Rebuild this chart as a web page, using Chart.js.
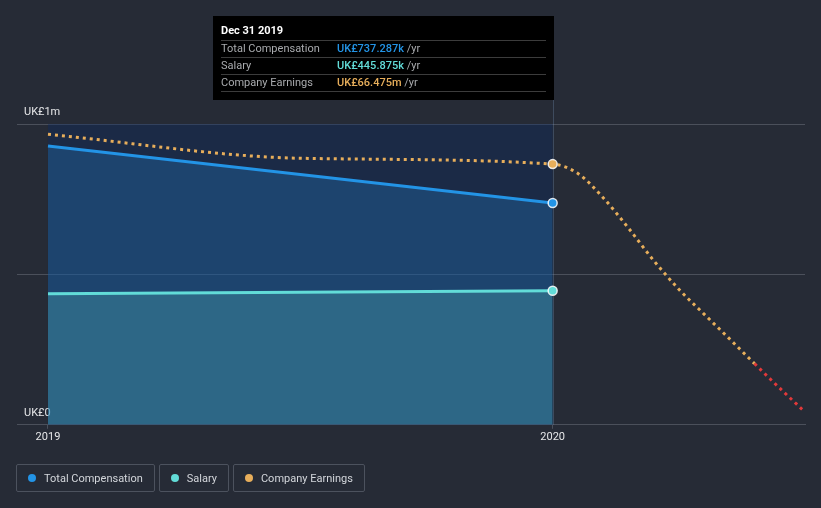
<!DOCTYPE html>
<html>
<head>
<meta charset="utf-8">
<script src="https://cdn.jsdelivr.net/npm/chart.js@4/dist/chart.umd.min.js"></script>
<style>
    html, body { margin: 0; padding: 0; background: #262b36; }
    body { width: 821px; height: 508px; position: relative; overflow: hidden; font-family: Roboto, sans-serif; }
    #chart { position: absolute; left: 0; top: 0; }
    #legend { position: absolute; left: 16px; top: 464px; display: flex; gap: 4px; }
    #legend .item {
        display: flex; align-items: center; height: 28px; box-sizing: border-box;
        border: 1px solid #4c525e; border-radius: 2px; padding: 0 11px 0 11px;
        font-size: 11px; color: #d3d6db;
    }
    #legend .dot { width: 8px; height: 8px; border-radius: 50%; margin-right: 8px; }
</style>
</head>
<body>
<canvas id="chart" width="821" height="508"></canvas>
<div id="legend"></div>
<script>
document.addEventListener('DOMContentLoaded', function () {

    // Data (x = year)
    const compYears = [2019, 2020];
    const totalComp = [927000, 737287];
    const salary = [436000, 445875];

    const earningsYears = [2019, 2019.5, 2020, 2020.05, 2020.1, 2020.15, 2020.2, 2020.25, 2020.3, 2020.35, 2020.4, 2020.45, 2020.5];
    const earnings = [76.3e6, 68.4e6, 66.475e6, 63.4e6, 55.4e6, 45.4e6, 34.7e6, 25.2e6, 17.0e6, 8.9e6, 0.66e6, -7.44e6, -15.3e6];

    const xTicks = [2019, 2020];
    const xTickLabels = ['2019', '2020'];
    const yTicks = [0, 500000, 1000000];
    const yTickLabels = ['UK£0', '', 'UK£1m'];

    const seriesNames = ['Total Compensation', 'Salary', 'Company Earnings'];
    const seriesColors = ['#2394e6', '#62dcd8', '#e7ae5b'];
    const negativeColor = '#e2393a';

    const tooltipYear = 2020;
    const tooltipTitle = 'Dec 31 2019';

    const toXY = (xs, ys) => xs.map((x, i) => ({ x: x, y: ys[i] }));
    const markAt = (xs, year) => xs.map(x => x === year ? 4.5 : 0);

    const fmtK = v => 'UK£' + (v / 1000).toFixed(3) + 'k';
    const fmtM = v => 'UK£' + (v / 1e6).toFixed(3) + 'm';

    // highlighted range + hover line
    const bandPlugin = {
        id: 'band',
        beforeDatasetsDraw(chart) {
            const { ctx, chartArea, scales } = chart;
            const x0 = scales.x.getPixelForValue(compYears[0]);
            const x1 = scales.x.getPixelForValue(tooltipYear);
            ctx.save();
            ctx.fillStyle = 'rgba(10, 40, 100, 0.35)';
            ctx.fillRect(x0, chartArea.top, x1 - x0, chartArea.bottom - chartArea.top);
            ctx.strokeStyle = 'rgba(120, 150, 190, 0.3)';
            ctx.lineWidth = 1;
            ctx.beginPath();
            ctx.moveTo(Math.round(x1) + 0.5, 100);
            ctx.lineTo(Math.round(x1) + 0.5, chartArea.bottom);
            ctx.stroke();
            ctx.restore();
        }
    };

    // fixed tooltip box
    const tooltipPlugin = {
        id: 'staticTooltip',
        afterDraw(chart) {
            const ctx = chart.ctx;
            const xPix = Math.round(chart.scales.x.getPixelForValue(tooltipYear));
            const right = xPix + 1, left = right - 341, top = 16, bottom = 100;
            const i = compYears.indexOf(tooltipYear);
            const e = earningsYears.indexOf(tooltipYear);
            const rows = [
                [seriesNames[0], fmtK(totalComp[i]), seriesColors[0]],
                [seriesNames[1], fmtK(salary[i]), seriesColors[1]],
                [seriesNames[2], fmtM(earnings[e]), seriesColors[2]]
            ];
            ctx.save();
            ctx.fillStyle = '#000000';
            ctx.fillRect(left, top, right - left, bottom - top);
            ctx.textBaseline = 'middle';
            ctx.textAlign = 'left';
            ctx.font = 'bold 11px Roboto';
            ctx.fillStyle = '#ffffff';
            ctx.fillText(tooltipTitle, left + 8, 31.5);
            ctx.strokeStyle = '#3c3c3c';
            ctx.lineWidth = 1;
            [40.5, 57.5, 74.5, 91.5].forEach(y => {
                ctx.beginPath();
                ctx.moveTo(left + 8, y);
                ctx.lineTo(right - 8, y);
                ctx.stroke();
            });
            rows.forEach((r, k) => {
                const y = 49 + k * 17;
                ctx.font = '11px Roboto';
                ctx.fillStyle = '#a9abae';
                ctx.fillText(r[0], left + 8, y);
                ctx.font = '500 11px Roboto';
                ctx.fillStyle = r[2];
                ctx.fillText(r[1], left + 124, y);
                const w = ctx.measureText(r[1]).width;
                ctx.font = '11px Roboto';
                ctx.fillStyle = '#a9abae';
                ctx.fillText(' /yr', left + 124 + w, y);
            });
            ctx.restore();
        }
    };

    const chartCanvas = document.getElementById('chart');
    new Chart(chartCanvas, {
        type: 'line',
        data: {
            datasets: [{
                label: seriesNames[0],
                data: toXY(compYears, totalComp),
                borderColor: seriesColors[0],
                backgroundColor: 'rgba(35, 148, 230, 0.25)',
                borderWidth: 3,
                fill: 'origin',
                pointRadius: markAt(compYears, tooltipYear),
                pointBackgroundColor: seriesColors[0],
                pointBorderColor: 'rgba(255,255,255,0.85)',
                pointBorderWidth: 1.5,
                yAxisID: 'y',
                order: 2
            }, {
                label: seriesNames[1],
                data: toXY(compYears, salary),
                borderColor: seriesColors[1],
                backgroundColor: 'rgba(98, 220, 216, 0.23)',
                borderWidth: 3,
                fill: 'origin',
                pointRadius: markAt(compYears, tooltipYear),
                pointBackgroundColor: seriesColors[1],
                pointBorderColor: 'rgba(255,255,255,0.85)',
                pointBorderWidth: 1.5,
                yAxisID: 'y',
                order: 1
            }, {
                label: seriesNames[2],
                data: toXY(earningsYears, earnings),
                borderColor: seriesColors[2],
                borderWidth: 3,
                borderDash: [3, 4],
                fill: false,
                cubicInterpolationMode: 'monotone',
                pointRadius: markAt(earningsYears, tooltipYear),
                pointBackgroundColor: seriesColors[2],
                pointBorderColor: 'rgba(255,255,255,0.85)',
                pointBorderWidth: 1.5,
                segment: {
                    borderColor: ctx => ctx.p1.parsed.y < 0 ? negativeColor : undefined
                },
                yAxisID: 'y2',
                order: 0
            }]
        },
        options: {
            responsive: false,
            animation: false,
            events: [],
            layout: { padding: { left: 10, right: 16, top: 124, bottom: 62 } },
            plugins: {
                legend: { display: false },
                tooltip: { enabled: false }
            },
            scales: {
                x: {
                    type: 'linear',
                    min: 2018.9386,
                    max: 2020.5,
                    afterBuildTicks: scale => { scale.ticks = xTicks.map(v => ({ value: v })); },
                    ticks: {
                        color: '#e6e7e9',
                        font: { family: 'Roboto', size: 11 },
                        padding: 2,
                        maxRotation: 0,
                        callback: v => xTickLabels[xTicks.indexOf(v)]
                    },
                    grid: { drawOnChartArea: false, drawTicks: true, tickLength: 4, color: '#4b505b' },
                    border: { display: true, color: '#4b505b', width: 1 }
                },
                y: {
                    min: 0,
                    max: 1000000,
                    afterBuildTicks: scale => { scale.ticks = yTicks.map(v => ({ value: v })); },
                    afterFit: scale => { scale.width = 7; },
                    ticks: {
                        mirror: true,
                        padding: 7,
                        labelOffset: -12,
                        color: '#e6e7e9',
                        font: { family: 'Roboto', size: 11 },
                        callback: v => yTickLabels[yTicks.indexOf(v)]
                    },
                    grid: { drawTicks: false, color: '#4b505b' },
                    border: { display: false }
                },
                y2: {
                    display: false,
                    min: -19.51e6,
                    max: 79.70e6
                }
            }
        },
        plugins: [bandPlugin, tooltipPlugin]
    });

    // Legend boxes
    const legend = document.getElementById('legend');
    seriesNames.forEach((name, i) => {
        const item = document.createElement('div');
        item.className = 'item';
        const dot = document.createElement('span');
        dot.className = 'dot';
        dot.style.background = seriesColors[i];
        item.appendChild(dot);
        item.appendChild(document.createTextNode(name));
        legend.appendChild(item);
    });
});
</script>
</body>
</html>
